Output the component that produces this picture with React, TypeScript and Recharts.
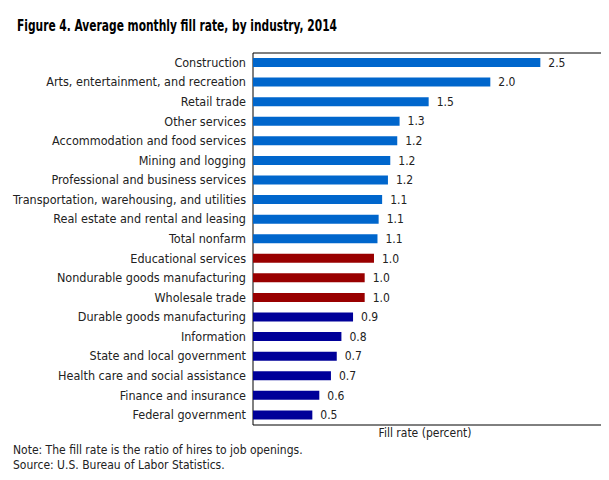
import { BarChart, Bar, XAxis, YAxis, Cell, LabelList, ReferenceArea } from 'recharts'

// Average monthly fill rate by industry, 2014 (percent)
const industries = [
  'Construction',
  'Arts, entertainment, and recreation',
  'Retail trade',
  'Other services',
  'Accommodation and food services',
  'Mining and logging',
  'Professional and business services',
  'Transportation, warehousing, and utilities',
  'Real estate and rental and leasing',
  'Total nonfarm',
  'Educational services',
  'Nondurable goods manufacturing',
  'Wholesale trade',
  'Durable goods manufacturing',
  'Information',
  'State and local government',
  'Health care and social assistance',
  'Finance and insurance',
  'Federal government',
]

const fillRates = [2.47, 2.04, 1.51, 1.26, 1.24, 1.18, 1.16, 1.11, 1.08, 1.07, 1.04, 0.96, 0.96, 0.86, 0.76, 0.72, 0.67, 0.57, 0.51]

// color group: 'high' = above 1.0, 'mid' = about 1.0, 'low' = below 1.0
const groups = ['high', 'high', 'high', 'high', 'high', 'high', 'high', 'high', 'high', 'high', 'mid', 'mid', 'mid', 'low', 'low', 'low', 'low', 'low', 'low']

const groupColors: Record<string, string> = {
  high: '#0066cc',
  mid: '#990000',
  low: '#000099',
}

const xDomain = [0, 3]

const data = industries.map((name, i) => ({ name, value: fillRates[i], group: groups[i] }))

const textColor = '#222'
const font = "'DejaVu Sans Condensed', 'DejaVu Sans', sans-serif"

// plain tick so long names never wrap
function CategoryTick(props: any) {
  const { x, y, payload } = props
  return (
    <text x={x} y={y} dy={4} textAnchor="end" fill={textColor} fontSize={12.5} fontFamily={font}>
      {payload.value}
    </text>
  )
}

export default function App() {
  return (
    <div style={{ position: 'relative', width: 609, height: 480, margin: -8, background: '#fff', fontFamily: font }}>
      <div
        style={{
          position: 'absolute',
          left: 17,
          top: 17,
          fontSize: 15,
          fontWeight: 'bold',
          color: '#000',
          whiteSpace: 'nowrap',
          transform: 'scaleX(0.79)',
          transformOrigin: 'left top',
        }}
      >
        Figure 4. Average monthly fill rate, by industry, 2014
      </div>
      <BarChart
        width={609}
        height={480}
        data={data}
        layout="vertical"
        margin={{ top: 53, right: 7, bottom: 55, left: 3 }}
        barCategoryGap={5}
      >
        <XAxis type="number" domain={xDomain} hide />
        <YAxis
          type="category"
          dataKey="name"
          width={250}
          tickLine={false}
          axisLine={false}
          tickSize={0}
          tickMargin={7}
          interval={0}
          tick={<CategoryTick />}
        />
        {/* plot frame */}
        <ReferenceArea x1={0} x2={3} fill="none" stroke="#000" strokeWidth={1} ifOverflow="extendDomain" />
        <Bar dataKey="value" barSize={9} isAnimationActive={false}>
          {data.map((d) => (
            <Cell key={d.name} fill={groupColors[d.group]} />
          ))}
          <LabelList
            dataKey="value"
            position="right"
            offset={8}
            formatter={(v: number) => v.toFixed(1)}
            style={{ fill: textColor, fontSize: 12, fontFamily: font }}
          />
        </Bar>
      </BarChart>
      <div style={{ position: 'absolute', left: 0, width: 850, top: 426, textAlign: 'center', fontSize: 12, color: textColor }}>
        Fill rate (percent)
      </div>
      <div style={{ position: 'absolute', left: 13, top: 443, fontSize: 12, color: textColor, lineHeight: '15px' }}>
        Note: The fill rate is the ratio of hires to job openings.
        <br />
        Source: U.S. Bureau of Labor Statistics.
      </div>
    </div>
  )
}
